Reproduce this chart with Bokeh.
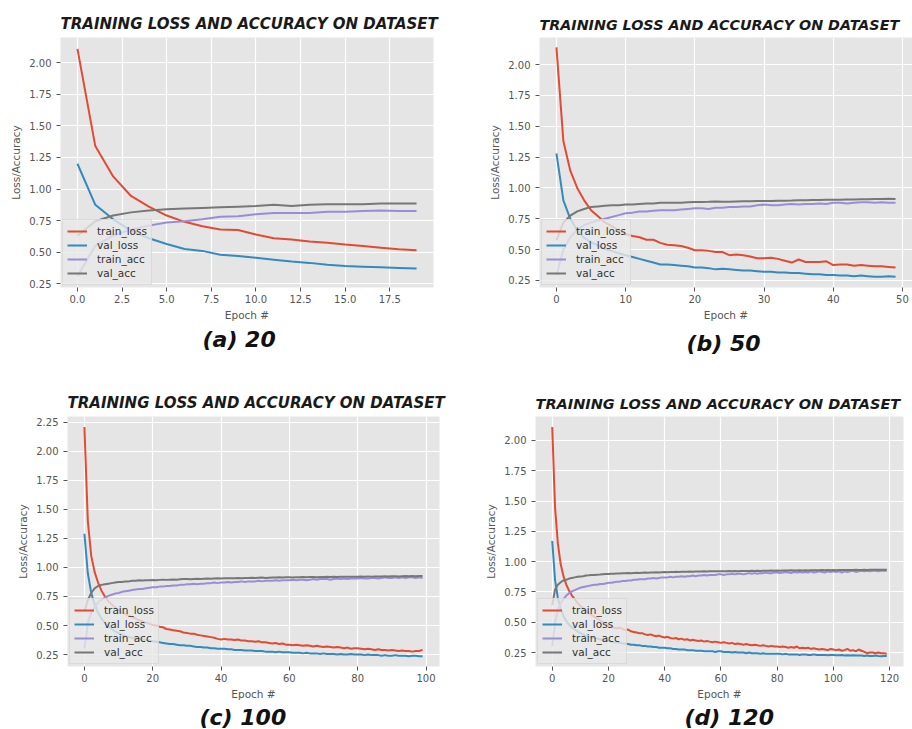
from bokeh.plotting import figure
from bokeh.layouts import column, row
from bokeh.models import Range1d, FixedTicker, PrintfTickFormatter, Title
from bokeh.embed import file_html
from bokeh.resources import INLINE

# ---------------- data ----------------
series_names = ["train_loss", "val_loss", "train_acc", "val_acc"]
series_colors = ["#E24A33", "#348ABD", "#988ED5", "#777777"]

title_text = "TRAINING LOSS AND ACCURACY ON DATASET"
x_label = "Epoch #"
y_label = "Loss/Accuracy"

# (a) 20 epochs
a_train_loss = [2.11, 1.34, 1.10, 0.945, 0.86, 0.79, 0.74, 0.705, 0.68, 0.675,
                0.64, 0.61, 0.60, 0.585, 0.575, 0.56, 0.548, 0.535, 0.522, 0.515]
a_val_loss = [1.20, 0.875, 0.76, 0.67, 0.61, 0.565, 0.525, 0.51, 0.48, 0.47,
              0.455, 0.44, 0.425, 0.415, 0.40, 0.39, 0.385, 0.38, 0.375, 0.37]
a_train_acc = [0.31, 0.55, 0.63, 0.68, 0.71, 0.735, 0.745, 0.76, 0.78, 0.785,
               0.80, 0.81, 0.81, 0.81, 0.82, 0.82, 0.825, 0.83, 0.825, 0.825]
a_val_acc = [0.63, 0.745, 0.79, 0.815, 0.83, 0.84, 0.845, 0.85, 0.855, 0.86,
             0.865, 0.875, 0.865, 0.875, 0.88, 0.88, 0.88, 0.885, 0.885, 0.885]

# (b) 50 epochs
b_train_loss = [2.14, 1.38, 1.14, 1.00, 0.90, 0.82, 0.77, 0.72, 0.69, 0.655,
                0.625, 0.61, 0.60, 0.58, 0.58, 0.555, 0.54, 0.535, 0.53, 0.515,
                0.495, 0.495, 0.49, 0.48, 0.48, 0.455, 0.46, 0.455, 0.445, 0.43,
                0.43, 0.435, 0.425, 0.41, 0.395, 0.42, 0.40, 0.40, 0.40, 0.405,
                0.375, 0.38, 0.38, 0.37, 0.375, 0.37, 0.365, 0.365, 0.36, 0.355]
b_val_loss = [1.28, 0.90, 0.75, 0.655, 0.595, 0.56, 0.535, 0.505, 0.49, 0.47,
              0.455, 0.44, 0.425, 0.41, 0.395, 0.38, 0.38, 0.375, 0.37, 0.365,
              0.355, 0.355, 0.35, 0.34, 0.345, 0.34, 0.335, 0.33, 0.33, 0.325,
              0.32, 0.32, 0.315, 0.315, 0.31, 0.31, 0.305, 0.30, 0.30, 0.295,
              0.295, 0.29, 0.29, 0.285, 0.29, 0.285, 0.28, 0.28, 0.285, 0.28]
b_train_acc = [0.29, 0.50, 0.60, 0.66, 0.70, 0.72, 0.735, 0.75, 0.765, 0.78,
               0.795, 0.80, 0.81, 0.81, 0.815, 0.82, 0.82, 0.82, 0.825, 0.83,
               0.835, 0.835, 0.83, 0.84, 0.84, 0.845, 0.845, 0.85, 0.85, 0.86,
               0.865, 0.86, 0.86, 0.865, 0.87, 0.865, 0.87, 0.87, 0.875, 0.87,
               0.88, 0.88, 0.875, 0.88, 0.885, 0.885, 0.88, 0.885, 0.88, 0.88]
b_val_acc = [0.575, 0.72, 0.775, 0.81, 0.83, 0.845, 0.85, 0.855, 0.86, 0.86,
             0.865, 0.865, 0.87, 0.875, 0.875, 0.88, 0.88, 0.88, 0.88, 0.885,
             0.887, 0.887, 0.888, 0.89, 0.888, 0.888, 0.89, 0.892, 0.893, 0.895,
             0.895, 0.895, 0.897, 0.897, 0.898, 0.90, 0.90, 0.902, 0.903, 0.905,
             0.905, 0.905, 0.906, 0.907, 0.908, 0.908, 0.91, 0.91, 0.912, 0.91]

# (c) 100 epochs
c_train_loss = [2.21, 1.40, 1.10, 0.96, 0.87, 0.80, 0.75, 0.71, 0.68, 0.655,
                0.635, 0.615, 0.60, 0.585, 0.57, 0.56, 0.545, 0.535, 0.525, 0.515,
                0.505, 0.50, 0.49, 0.485, 0.47, 0.465, 0.46, 0.455, 0.45, 0.44,
                0.435, 0.43, 0.43, 0.42, 0.415, 0.41, 0.405, 0.40, 0.395, 0.385,
                0.38, 0.385, 0.38, 0.38, 0.375, 0.38, 0.37, 0.37, 0.365, 0.365,
                0.36, 0.365, 0.355, 0.355, 0.35, 0.345, 0.35, 0.34, 0.345, 0.335,
                0.335, 0.33, 0.335, 0.33, 0.325, 0.33, 0.325, 0.32, 0.325, 0.32,
                0.315, 0.32, 0.315, 0.31, 0.315, 0.31, 0.305, 0.31, 0.30, 0.305,
                0.305, 0.30, 0.295, 0.30, 0.295, 0.29, 0.295, 0.29, 0.29, 0.285,
                0.29, 0.285, 0.28, 0.285, 0.28, 0.28, 0.275, 0.28, 0.28, 0.29]
c_val_loss = [1.29, 0.95, 0.78, 0.68, 0.61, 0.56, 0.525, 0.495, 0.47, 0.45,
              0.435, 0.42, 0.41, 0.40, 0.395, 0.39, 0.385, 0.38, 0.375, 0.37,
              0.365, 0.36, 0.355, 0.35, 0.345, 0.34, 0.34, 0.335, 0.33, 0.33,
              0.325, 0.325, 0.32, 0.315, 0.315, 0.31, 0.31, 0.305, 0.305, 0.30,
              0.30, 0.30, 0.295, 0.295, 0.29, 0.29, 0.29, 0.285, 0.285, 0.285,
              0.28, 0.28, 0.28, 0.275, 0.275, 0.275, 0.27, 0.275, 0.27, 0.27,
              0.27, 0.265, 0.265, 0.265, 0.26, 0.265, 0.26, 0.26, 0.26, 0.255,
              0.26, 0.255, 0.255, 0.255, 0.25, 0.255, 0.25, 0.25, 0.255, 0.25,
              0.25, 0.25, 0.245, 0.25, 0.245, 0.245, 0.245, 0.24, 0.245, 0.24,
              0.24, 0.245, 0.24, 0.24, 0.24, 0.235, 0.24, 0.24, 0.235, 0.235]
c_train_acc = [0.30, 0.52, 0.61, 0.66, 0.70, 0.72, 0.74, 0.755, 0.765, 0.775,
               0.78, 0.79, 0.795, 0.80, 0.805, 0.81, 0.815, 0.815, 0.82, 0.825,
               0.83, 0.83, 0.835, 0.835, 0.84, 0.84, 0.845, 0.845, 0.85, 0.85,
               0.855, 0.855, 0.86, 0.855, 0.86, 0.86, 0.865, 0.865, 0.87, 0.865,
               0.87, 0.87, 0.875, 0.87, 0.875, 0.875, 0.88, 0.875, 0.88, 0.88,
               0.88, 0.885, 0.88, 0.885, 0.885, 0.885, 0.89, 0.885, 0.89, 0.89,
               0.89, 0.895, 0.89, 0.895, 0.895, 0.89, 0.895, 0.90, 0.895, 0.90,
               0.90, 0.90, 0.895, 0.90, 0.905, 0.90, 0.905, 0.90, 0.905, 0.905,
               0.905, 0.91, 0.905, 0.905, 0.91, 0.91, 0.905, 0.91, 0.915, 0.91,
               0.91, 0.915, 0.91, 0.915, 0.91, 0.915, 0.915, 0.91, 0.915, 0.91]
c_val_acc = [0.62, 0.72, 0.78, 0.82, 0.84, 0.85, 0.855, 0.86, 0.865, 0.87,
             0.875, 0.875, 0.88, 0.88, 0.885, 0.885, 0.89, 0.888, 0.89, 0.89,
             0.892, 0.89, 0.893, 0.895, 0.893, 0.895, 0.897, 0.895, 0.898, 0.90,
             0.90, 0.898, 0.90, 0.902, 0.90, 0.903, 0.905, 0.903, 0.905, 0.907,
             0.905, 0.907, 0.908, 0.906, 0.908, 0.91, 0.908, 0.91, 0.91, 0.912,
             0.91, 0.912, 0.913, 0.91, 0.912, 0.914, 0.913, 0.915, 0.913, 0.915,
             0.915, 0.914, 0.916, 0.915, 0.917, 0.915, 0.917, 0.918, 0.916, 0.918,
             0.918, 0.919, 0.917, 0.92, 0.918, 0.92, 0.92, 0.919, 0.921, 0.92,
             0.92, 0.922, 0.92, 0.922, 0.921, 0.923, 0.922, 0.923, 0.925, 0.923,
             0.924, 0.925, 0.923, 0.925, 0.926, 0.924, 0.926, 0.925, 0.927, 0.926]

# (d) 120 epochs
d_train_loss = [2.11, 1.45, 1.15, 0.98, 0.88, 0.81, 0.76, 0.72, 0.69, 0.66,
                0.635, 0.615, 0.595, 0.575, 0.56, 0.545, 0.53, 0.515, 0.50, 0.49,
                0.47, 0.465, 0.455, 0.45, 0.455, 0.445, 0.435, 0.44, 0.425, 0.42,
                0.415, 0.41, 0.41, 0.40, 0.395, 0.40, 0.39, 0.385, 0.39, 0.38,
                0.375, 0.38, 0.37, 0.365, 0.37, 0.36, 0.365, 0.355, 0.36, 0.35,
                0.355, 0.35, 0.345, 0.35, 0.34, 0.345, 0.34, 0.335, 0.34, 0.335,
                0.33, 0.335, 0.33, 0.325, 0.33, 0.32, 0.325, 0.32, 0.315, 0.32,
                0.315, 0.31, 0.315, 0.31, 0.305, 0.31, 0.305, 0.30, 0.305, 0.30,
                0.30, 0.295, 0.30, 0.295, 0.29, 0.295, 0.29, 0.30, 0.285, 0.29,
                0.285, 0.29, 0.28, 0.285, 0.28, 0.275, 0.28, 0.275, 0.27, 0.28,
                0.275, 0.27, 0.275, 0.265, 0.27, 0.28, 0.265, 0.27, 0.26, 0.275,
                0.265, 0.255, 0.245, 0.25, 0.25, 0.245, 0.25, 0.245, 0.245, 0.24]
d_val_loss = [1.17, 0.85, 0.70, 0.61, 0.55, 0.51, 0.48, 0.455, 0.44, 0.425,
              0.41, 0.40, 0.39, 0.385, 0.375, 0.37, 0.365, 0.36, 0.355, 0.35,
              0.345, 0.34, 0.335, 0.335, 0.33, 0.325, 0.325, 0.32, 0.315, 0.315,
              0.31, 0.31, 0.305, 0.305, 0.30, 0.30, 0.295, 0.295, 0.29, 0.29,
              0.29, 0.285, 0.285, 0.28, 0.28, 0.275, 0.275, 0.275, 0.27, 0.27,
              0.27, 0.265, 0.265, 0.265, 0.26, 0.26, 0.26, 0.26, 0.255, 0.26,
              0.26, 0.255, 0.255, 0.255, 0.25, 0.255, 0.25, 0.25, 0.25, 0.245,
              0.25, 0.245, 0.245, 0.245, 0.24, 0.245, 0.24, 0.24, 0.24, 0.24,
              0.24, 0.24, 0.235, 0.24, 0.235, 0.235, 0.235, 0.235, 0.23, 0.235,
              0.235, 0.23, 0.23, 0.235, 0.23, 0.23, 0.23, 0.23, 0.228, 0.23,
              0.23, 0.228, 0.228, 0.23, 0.225, 0.228, 0.225, 0.228, 0.225, 0.225,
              0.225, 0.222, 0.225, 0.222, 0.222, 0.225, 0.222, 0.22, 0.222, 0.222]
d_train_acc = [0.30, 0.50, 0.60, 0.66, 0.69, 0.72, 0.74, 0.755, 0.765, 0.775,
               0.785, 0.79, 0.795, 0.80, 0.805, 0.81, 0.81, 0.815, 0.815, 0.82,
               0.825, 0.825, 0.83, 0.835, 0.835, 0.84, 0.84, 0.845, 0.845, 0.85,
               0.85, 0.855, 0.855, 0.855, 0.86, 0.86, 0.865, 0.86, 0.865, 0.87,
               0.87, 0.87, 0.875, 0.87, 0.875, 0.875, 0.88, 0.875, 0.88, 0.88,
               0.885, 0.88, 0.885, 0.885, 0.89, 0.885, 0.89, 0.89, 0.89, 0.895,
               0.895, 0.89, 0.895, 0.895, 0.90, 0.895, 0.90, 0.90, 0.895, 0.90,
               0.905, 0.90, 0.905, 0.90, 0.905, 0.905, 0.91, 0.905, 0.905, 0.91,
               0.91, 0.905, 0.91, 0.915, 0.91, 0.905, 0.915, 0.91, 0.915, 0.91,
               0.915, 0.91, 0.92, 0.91, 0.915, 0.92, 0.915, 0.91, 0.92, 0.915,
               0.92, 0.915, 0.92, 0.91, 0.92, 0.915, 0.92, 0.925, 0.915, 0.92,
               0.925, 0.92, 0.925, 0.92, 0.925, 0.925, 0.92, 0.925, 0.925, 0.925]
d_val_acc = [0.64, 0.77, 0.81, 0.83, 0.845, 0.85, 0.86, 0.865, 0.87, 0.875,
             0.878, 0.88, 0.885, 0.887, 0.89, 0.89, 0.892, 0.893, 0.895, 0.897,
             0.898, 0.90, 0.90, 0.902, 0.903, 0.905, 0.904, 0.906, 0.905, 0.907,
             0.908, 0.907, 0.909, 0.91, 0.909, 0.91, 0.911, 0.912, 0.911, 0.913,
             0.914, 0.913, 0.915, 0.914, 0.916, 0.915, 0.916, 0.917, 0.916, 0.918,
             0.917, 0.918, 0.919, 0.918, 0.92, 0.919, 0.92, 0.92, 0.921, 0.92,
             0.92, 0.921, 0.92, 0.922, 0.921, 0.922, 0.921, 0.923, 0.922, 0.923,
             0.923, 0.924, 0.922, 0.924, 0.923, 0.925, 0.924, 0.925, 0.927, 0.925,
             0.926, 0.925, 0.926, 0.927, 0.926, 0.928, 0.927, 0.926, 0.928, 0.927,
             0.928, 0.927, 0.929, 0.928, 0.929, 0.928, 0.93, 0.929, 0.93, 0.929,
             0.93, 0.929, 0.93, 0.931, 0.93, 0.931, 0.93, 0.931, 0.932, 0.931,
             0.931, 0.932, 0.931, 0.932, 0.933, 0.932, 0.933, 0.932, 0.933, 0.933]

a_x_ticks = [0, 2.5, 5, 7.5, 10, 12.5, 15, 17.5]
b_x_ticks = [0, 10, 20, 30, 40, 50]
c_x_ticks = [0, 20, 40, 60, 80, 100]
d_x_ticks = [0, 20, 40, 60, 80, 100, 120]
y_ticks_a = [0.25, 0.50, 0.75, 1.00, 1.25, 1.50, 1.75, 2.00]
y_ticks_c = [0.25, 0.50, 0.75, 1.00, 1.25, 1.50, 1.75, 2.00, 2.25]

captions = ["(a) 20", "(b) 50", "(c) 100", "(d) 120"]

# ---------------- styling helpers ----------------
TICK_FONT = "DejaVu Sans"
TITLE_FONT = "DejaVu Sans"


def make_panel(series, x_ticks, x_fmt, y_ticks, xr, yr, width, height,
               left, right, top, bottom, caption, cap_offset, cap_standoff,
               title_size):
    p = figure(width=width, height=height, output_backend="svg",
               toolbar_location=None, x_range=Range1d(*xr), y_range=Range1d(*yr),
               min_border_left=left, min_border_right=right,
               min_border_top=top, min_border_bottom=bottom,
               background_fill_color="#E5E5E5", border_fill_color="white",
               outline_line_color=None)
    p.title.text = title_text
    p.title.align = "left"
    p.title.text_font = TITLE_FONT
    p.title.text_font_style = "bold italic"
    p.title.text_font_size = title_size
    p.title.text_color = "#1a1a1a"
    p.title.standoff = 10

    xs = list(range(len(series[0])))
    for vals, name, col in zip(series, series_names, series_colors):
        p.line(xs, vals, line_color=col, line_width=2, legend_label=name)

    for ax in (p.xaxis[0], p.yaxis[0]):
        ax.axis_line_color = None
        ax.major_tick_line_color = "#555555"
        ax.major_tick_out = 4
        ax.major_tick_in = 0
        ax.minor_tick_line_color = None
        ax.major_label_text_font = TICK_FONT
        ax.major_label_text_font_size = "10px"
        ax.major_label_text_color = "#555555"
        ax.axis_label_text_font = TICK_FONT
        ax.axis_label_text_font_size = "10.5px"
        ax.axis_label_text_font_style = "normal"
        ax.axis_label_text_color = "#555555"
    p.xaxis[0].ticker = FixedTicker(ticks=x_ticks)
    p.xaxis[0].formatter = PrintfTickFormatter(format=x_fmt)
    p.xaxis[0].major_label_standoff = 3
    p.xaxis[0].axis_label = x_label
    p.xaxis[0].axis_label_standoff = 3
    p.yaxis[0].ticker = FixedTicker(ticks=y_ticks)
    p.yaxis[0].formatter = PrintfTickFormatter(format="%.2f")
    p.yaxis[0].major_label_standoff = 5
    p.yaxis[0].axis_label = y_label
    p.yaxis[0].axis_label_standoff = 4

    p.xgrid.grid_line_color = "white"
    p.ygrid.grid_line_color = "white"
    p.xgrid.grid_line_width = 1.2
    p.ygrid.grid_line_width = 1.2
    p.xgrid.ticker = FixedTicker(ticks=x_ticks)
    p.ygrid.ticker = FixedTicker(ticks=y_ticks)

    lg = p.legend[0]
    lg.location = "bottom_left"
    lg.margin = 2
    lg.padding = 4
    lg.spacing = 0
    lg.glyph_width = 20
    lg.glyph_height = 14
    lg.label_height = 14
    lg.label_standoff = 10
    lg.label_text_font = TICK_FONT
    lg.label_text_font_size = "10.5px"
    lg.label_text_color = "#333333"
    lg.background_fill_color = "#E8E8E8"
    lg.background_fill_alpha = 0.8
    lg.border_line_color = "#d0d0d0"
    lg.border_line_alpha = 0.6

    cap = Title(text=caption, align="left", offset=cap_offset,
                standoff=cap_standoff, text_font=TITLE_FONT,
                text_font_style="bold italic", text_font_size="22px",
                text_color="#111111")
    p.add_layout(cap, "below")
    return p


pa = make_panel([a_train_loss, a_val_loss, a_train_acc, a_val_acc], a_x_ticks, "%.1f",
                y_ticks_a, (-0.95, 19.95), (0.22, 2.20), 456, 362, 60, 23, 37, 75,
                captions[0], 142, 3, "15px")
pb = make_panel([b_train_loss, b_val_loss, b_train_acc, b_val_acc], b_x_ticks, "%d",
                y_ticks_a, (-2.45, 51.45), (0.193, 2.22), 456, 362, 83, 0, 37, 75,
                captions[1], 147, 11, "14.3px")
pc = make_panel([c_train_loss, c_val_loss, c_train_acc, c_val_acc], c_x_ticks, "%d",
                y_ticks_c, (-4.95, 103.95), (0.147, 2.30), 456, 367, 67, 17, 54, 61,
                captions[2], 132, 0, "15px")
pd_ = make_panel([d_train_loss, d_val_loss, d_train_acc, d_val_acc], d_x_ticks, "%d",
                 y_ticks_a, (-5.95, 124.95), (0.135, 2.197), 456, 367, 79, 9, 54, 61,
                 captions[3], 149, 0, "14.5px")

layout = column(row(pa, pb, spacing=0), row(pc, pd_, spacing=0), spacing=0)

open("out.html", "w").write(file_html(layout, INLINE))
